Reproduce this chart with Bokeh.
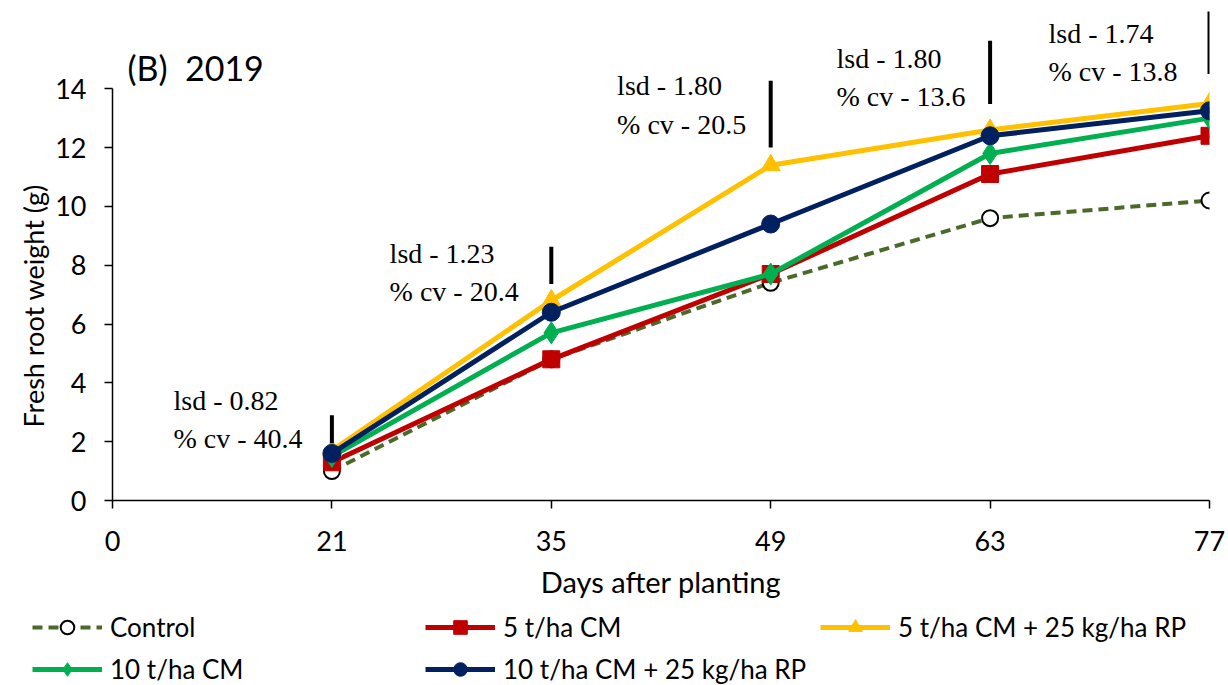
from bokeh.plotting import figure
from bokeh.layouts import column
from bokeh.models import Range1d, Legend, LegendItem, Label, FixedTicker, ColumnDataSource, Title
from bokeh.embed import file_html
from bokeh.resources import INLINE

# ---------------- data ----------------
day_labels = ["0", "21", "35", "49", "63", "77"]
sample_pos = [1, 2, 3, 4, 5]          # category positions of 21..77 days

control = [1.0, 4.8, 7.4, 9.6, 10.2]
cm5 = [1.3, 4.8, 7.7, 11.1, 12.4]
cm5_rp = [1.7, 6.8, 11.4, 12.6, 13.5]
cm10 = [1.5, 5.7, 7.7, 11.8, 13.0]
cm10_rp = [1.6, 6.4, 9.4, 12.4, 13.25]

lsd_text = ["0.82", "1.23", "1.80", "1.80", "1.74"]
cv_text = ["40.4", "20.4", "20.5", "13.6", "13.8"]
lsd_bar_low = [1.95, 7.36, 12.0, 13.48, 14.5]
lsd_bar_high = [2.9, 8.63, 14.27, 15.63, 16.63]

y_ticks = [0, 2, 4, 6, 8, 10, 12, 14]

# annotation anchors (layout, not data)
ann_x = [0.278, 1.263, 2.30, 3.30, 4.266]
ann_y = [3.40, 8.39, 14.10, 15.02, 15.87]
line_gap = 1.30

FONT = "Lato"
SERIF = "Liberation Serif"

p = figure(width=1228, height=610, output_backend="svg", toolbar_location=None,
           x_range=Range1d(0, 5), y_range=Range1d(0, 17.0),
           min_border_left=112, min_border_right=19, min_border_top=0,
           min_border_bottom=110)
p.outline_line_color = None
p.xgrid.visible = False
p.ygrid.visible = False
p.background_fill_color = "white"
p.border_fill_color = "white"

# axes
p.xaxis.ticker = FixedTicker(ticks=list(range(len(day_labels))))
p.xaxis.major_label_overrides = {i: s for i, s in enumerate(day_labels)}
p.yaxis.ticker = FixedTicker(ticks=y_ticks)
p.yaxis.bounds = (0, 14)
for ax in (p.xaxis[0], p.yaxis[0]):
    ax.axis_line_color = "black"
    ax.axis_line_width = 1.5
    ax.major_tick_line_color = "black"
    ax.major_tick_line_width = 1.5
    ax.major_tick_out = 8
    ax.major_tick_in = 0
    ax.minor_tick_line_color = None
    ax.major_label_text_font = FONT
    ax.major_label_text_font_size = "27px"
    ax.major_label_text_color = "black"
    ax.axis_label_text_font = FONT
    ax.axis_label_text_font_size = "29px"
    ax.axis_label_text_font_style = "normal"
    ax.axis_label_text_color = "black"
p.xaxis.axis_label = "Days after planting"
p.xaxis.major_label_standoff = 22
p.yaxis.major_label_standoff = 18
p.xaxis.axis_label_standoff = 10

# y-axis title placed along the 0-14 axis span
p.add_layout(Title(text="Fresh root weight (g)", align="left", offset=73,
                   text_font=FONT, text_font_size="27px", text_font_style="normal",
                   text_color="black", standoff=6), "left")

# series
series = [
    ("Control", control, "#4A6A2A", "circle", "white", "black", 16, "10 6", 4),
    ("5 t/ha CM", cm5, "#C00000", "square", "#C00000", "#C00000", 17, "solid", 5),
    ("5 t/ha CM + 25 kg/ha RP", cm5_rp, "#FFC000", "triangle", "#FFC000", "#FFC000", 19, "solid", 5),
    ("10 t/ha CM", cm10, "#00B050", "diamond", "#00B050", "#00B050", 22, "solid", 5),
    ("10 t/ha CM + 25 kg/ha RP", cm10_rp, "#002060", "circle", "#002060", "#002060", 18, "solid", 5),
]
for name, ys, col, mk, fill, edge, sz, dash, lw in series:
    src = ColumnDataSource(dict(x=sample_pos, y=ys))
    p.line("x", "y", source=src, line_color=col, line_width=lw, line_dash=dash)
    p.scatter("x", "y", source=src, marker=mk, size=sz, fill_color=fill,
              line_color=edge, line_width=2 if name == "Control" else 1)

# lsd bars
p.segment(x0=sample_pos, y0=lsd_bar_low, x1=sample_pos, y1=lsd_bar_high,
          line_color="black", line_width=4)

# lsd / cv texts
for xa, ya, l, c in zip(ann_x, ann_y, lsd_text, cv_text):
    p.add_layout(Label(x=xa, y=ya, text="lsd - " + l, text_font=SERIF,
                       text_font_size="28px", text_baseline="middle", text_color="black"))
    p.add_layout(Label(x=xa, y=ya - line_gap, text="% cv - " + c, text_font=SERIF,
                       text_font_size="28px", text_baseline="middle", text_color="black"))

# panel title
p.add_layout(Label(x=0.068, y=14.71, text="(B)\u00a0 2019", text_font=FONT,
                   text_font_size="34px", text_baseline="middle", text_color="black"))

# ---------------- legend strip ----------------
leg = figure(width=1228, height=75, output_backend="svg", toolbar_location=None,
             x_range=Range1d(0, 1), y_range=Range1d(0, 1),
             x_axis_location=None, y_axis_location=None,
             min_border_left=0, min_border_right=0, min_border_top=0, min_border_bottom=0)
leg.frame_align = False
leg.outline_line_color = None
leg.xgrid.visible = False
leg.ygrid.visible = False

legend_pos = [(32, 41), (425, 41), (820, 41), (32, -1), (425, -1)]
for (name, ys, col, mk, fill, edge, sz, dash, lw), loc in zip(series, legend_pos):
    # legend key renderers sit outside the strip's range so only the keys show
    lr = leg.line([5, 6], [5, 6], line_color=col, line_width=lw, line_dash=dash)
    sr = leg.scatter([5], [5], marker=mk, size=sz, fill_color=fill,
                     line_color=edge, line_width=2 if name == "Control" else 1)
    lg = Legend(items=[LegendItem(label=name, renderers=[lr, sr])], location=loc,
                label_text_font=FONT, label_text_font_size="26px", label_text_color="black",
                glyph_width=70, glyph_height=34, label_standoff=8, label_height=34,
                padding=0, margin=0, spacing=0,
                border_line_color=None, background_fill_alpha=0)
    leg.add_layout(lg)

layout = column(p, leg, spacing=0)
open("out.html", "w").write(file_html(layout, INLINE))
